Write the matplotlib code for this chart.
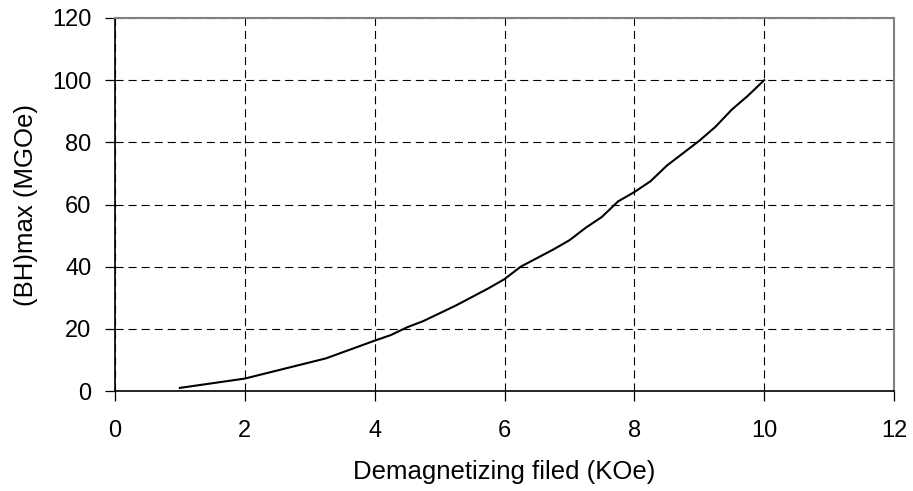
import matplotlib
matplotlib.use("Agg")
import matplotlib.pyplot as plt

plt.rcParams['font.family'] = ['Liberation Sans', 'DejaVu Sans']
plt.rcParams['lines.scale_dashes'] = False

# demagnetizing field (KOe) vs (BH)max (MGOe)
field = [1, 2, 3.25, 4, 4.25, 4.5, 4.75, 5.25, 5.75, 6, 6.25, 6.75, 7, 7.25,
         7.5, 7.75, 8, 8.25, 8.5, 8.75, 9, 9.25, 9.5, 9.75, 10]
bhmax = [1, 4, 10.5, 16.2, 18, 20.5, 22.5, 27.5, 33, 36, 40, 45.5, 48.5, 52.5,
         56, 61, 64, 67.5, 72.5, 76.5, 80.5, 85, 90.5, 95, 100]
xticks = [0, 2, 4, 6, 8, 10, 12]
yticks = [0, 20, 40, 60, 80, 100, 120]

fig = plt.figure(figsize=(9.13, 4.91), dpi=100)
ax = fig.add_axes([115/913, 100/491, 779/913, 373/491])

ax.plot(field, bhmax, color='black', linewidth=1.5, zorder=3)

ax.set_xlim(0, 12)
ax.set_ylim(0, 120)
ax.set_xticks(xticks)
ax.set_yticks(yticks)
ax.grid(True, color='black', linewidth=0.8, linestyle=(0, (5.8, 3.6)))

for side in ['left', 'bottom']:
    ax.spines[side].set_color('black')
    ax.spines[side].set_linewidth(1.2)
for side in ['top', 'right']:
    ax.spines[side].set_color('#808080')
    ax.spines[side].set_linewidth(1.5)

ax.tick_params(direction='out', length=7, width=0.9, labelsize=17, colors='black')
ax.tick_params(axis='x', pad=14)
ax.tick_params(axis='y', pad=10)

ax.set_xlabel('Demagnetizing filed (KOe)', fontsize=18.5, labelpad=13)
ax.set_ylabel('(BH)max (MGOe)', fontsize=18.5, labelpad=10)

fig.savefig('out.png', dpi=100)
